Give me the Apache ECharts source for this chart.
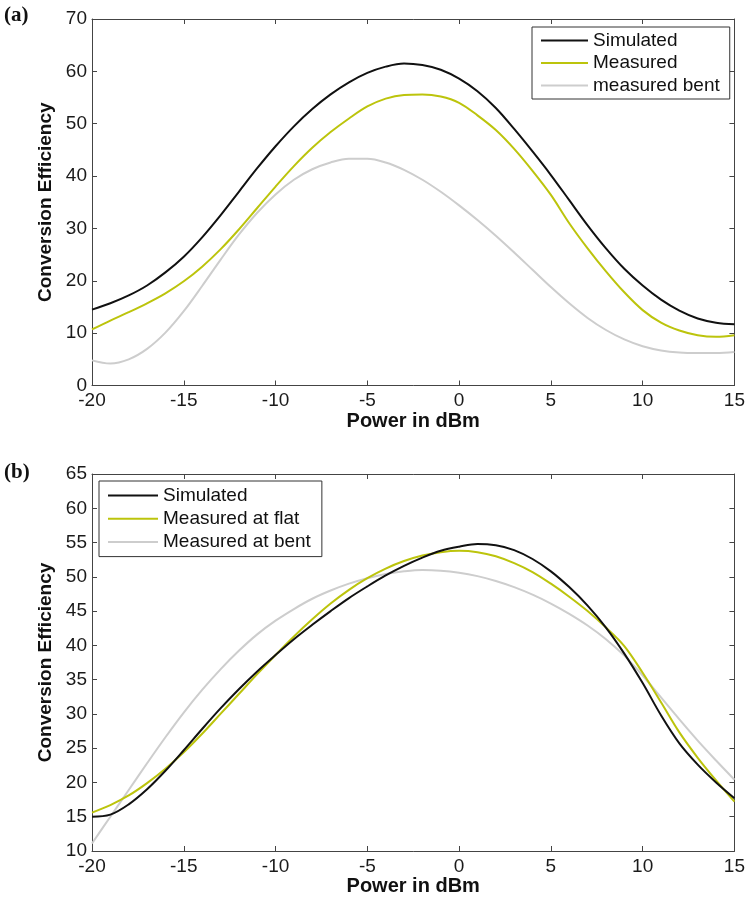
<!DOCTYPE html>
<html>
<head>
<meta charset="utf-8">
<script src="https://cdn.jsdelivr.net/npm/echarts@6/dist/echarts.min.js"></script>
<style>
html,body{margin:0;padding:0;background:#fff;}
#c{width:748px;height:901px;}
</style>
</head>
<body>
<div id="c"></div>
<script>
// ---- Data ----
const powerA = [-20,-19,-18,-17,-16,-15,-14,-13,-12,-11,-10,-9,-8,-7,-6,-5,-4,-3,-2,-1,0,1,2,3,4,5,6,7,8,9,10,11,12,13,14,15];
const simulatedA = [14.5,15.7,17.2,19.1,21.6,24.6,28.3,32.5,37.0,41.5,
                    45.7,49.5,52.8,55.6,57.9,59.7,60.9,61.5,61.2,60.3,
                    58.6,56.2,53.0,49.0,44.7,40.2,35.4,30.6,26.2,22.3,
                    19.1,16.4,14.3,12.8,12.0,11.7];
const measuredA = [10.7,12.4,14.0,15.7,17.6,19.9,22.7,26.0,29.8,33.9,
                   38.0,41.9,45.4,48.4,51.0,53.3,54.8,55.5,55.6,55.2,
                   54.0,51.6,48.8,45.2,41.0,36.4,31.0,26.2,21.8,17.8,
                   14.4,12.0,10.5,9.6,9.3,9.6];
const bentA = [4.8,4.2,5.0,7.0,10.1,14.2,19.0,24.0,28.8,33.0,
               36.5,39.3,41.3,42.6,43.3,43.3,42.6,41.2,39.3,37.0,
               34.4,31.6,28.6,25.4,22.1,18.8,15.7,12.9,10.6,8.8,
               7.5,6.7,6.3,6.2,6.2,6.4];

const powerB = [-20,-19,-18,-17,-16,-15,-14,-13,-12,-11,-10,-9,-8,-7,-6,-5,-4,-3,-2,-1,0,1,2,3,4,5,6,7,8,9,10,11,12,13,14,15];
const simulatedB = [15.0,15.3,16.8,19.0,21.7,24.7,27.8,30.8,33.6,36.2,
                    38.6,40.9,43.0,45.0,46.9,48.6,50.2,51.6,52.8,53.8,
                    54.4,54.8,54.6,53.9,52.6,50.8,48.5,45.8,42.6,38.8,
                    34.5,29.8,25.7,22.6,20.0,17.7];
const flatB = [15.6,16.7,18.1,19.9,22.0,24.4,27.1,30.0,32.9,35.8,
               38.6,41.3,43.8,46.1,48.1,49.8,51.2,52.3,53.1,53.6,
               53.8,53.6,53.0,52.0,50.7,49.0,47.1,45.0,42.6,39.9,
               36.0,31.7,27.3,23.6,20.3,17.2];
const bentB = [11.1,15.0,18.9,22.8,26.6,30.2,33.5,36.5,39.2,41.6,
               43.6,45.3,46.8,48.0,49.0,49.8,50.4,50.8,51.0,50.9,
               50.6,50.1,49.4,48.5,47.4,46.1,44.6,42.9,40.9,38.5,
               35.6,32.4,29.2,26.1,23.2,20.4];

const xTicks = {min:-20, max:15, interval:5};
const yTicksA = {min:0, max:70, interval:10};
const yTicksB = {min:10, max:65, interval:5};

const legendA = ['Simulated','Measured','measured bent'];
const legendB = ['Simulated','Measured at flat','Measured at bent'];

// ---- Styles ----
const FONT = 'Liberation Sans, Arial, sans-serif';
const AX = '#444';
const C_BLACK = '#111111', C_YEL = '#bcc40c', C_GRAY = '#cdcdcd';

function pairs(xs, ys){ return xs.map((x,i)=>[x, ys[i]]); }

function xAxisPair(gridIndex){
  const base = {
    type:'value', gridIndex, min:xTicks.min, max:xTicks.max, interval:xTicks.interval,
    axisLine:{show:true, onZero:false, lineStyle:{color:AX, width:1}},
    axisTick:{show:true, inside:true, length:5, lineStyle:{color:AX}},
    splitLine:{show:false}
  };
  return [
    Object.assign({}, base, {
      position:'bottom',
      axisLabel:{show:true, margin:6, color:'#1a1a1a', fontFamily:FONT, fontSize:19},
      name:'Power in dBm', nameLocation:'middle', nameGap:23,
      nameTextStyle:{color:'#111', fontFamily:FONT, fontSize:20, fontWeight:'bold'}
    }),
    Object.assign({}, base, {position:'top', axisLabel:{show:false}})
  ];
}
function yAxisPair(gridIndex, t){
  const base = {
    type:'value', gridIndex, min:t.min, max:t.max, interval:t.interval,
    axisLine:{show:true, onZero:false, lineStyle:{color:AX, width:1}},
    axisTick:{show:true, inside:true, length:5, lineStyle:{color:AX}},
    splitLine:{show:false}
  };
  return [
    Object.assign({}, base, {
      position:'left',
      axisLabel:{show:true, margin:5, color:'#1a1a1a', fontFamily:FONT, fontSize:19},
      name:'Conversion Efficiency', nameLocation:'middle', nameGap:36,
      nameTextStyle:{color:'#111', fontFamily:FONT, fontSize:19, fontWeight:'bold'}
    }),
    Object.assign({}, base, {position:'right', axisLabel:{show:false}})
  ];
}
function line(name, xs, ys, color, xi, yi, z){
  return {
    type:'line', name, data:pairs(xs, ys), xAxisIndex:xi, yAxisIndex:yi,
    smooth:0.35, symbol:'none', showSymbol:false, z:z,
    lineStyle:{color, width:2}, itemStyle:{color}, animation:false
  };
}

const chart = echarts.init(document.getElementById('c'), null, {renderer:'canvas'});
chart.setOption({
  backgroundColor:'#fff',
  animation:false,
  grid:[
    {left:92, top:19, width:645, height:366.5},
    {left:92, top:474, width:645, height:377}
  ],
  xAxis:[...xAxisPair(0), ...xAxisPair(1)],
  yAxis:[...yAxisPair(0, yTicksA), ...yAxisPair(1, yTicksB)],
  legend:[
    {data:legendA, left:532, top:27, orient:'vertical', icon:'rect', itemWidth:47, itemHeight:2, itemGap:3.5,
     padding:[4,10,4,9], borderColor:'#333', borderWidth:1, backgroundColor:'#fff',
     selectedMode:false, textStyle:{fontFamily:FONT, fontSize:19, lineHeight:19, color:'#111'}},
    {data:legendB, left:99, top:481, orient:'vertical', icon:'rect', itemWidth:50, itemHeight:2, itemGap:4.3,
     padding:[5,11,5,9], borderColor:'#333', borderWidth:1, backgroundColor:'#fff',
     selectedMode:false, textStyle:{fontFamily:FONT, fontSize:19, lineHeight:19, color:'#111'}}
  ],
  graphic:[
    {type:'text', left:4, top:5, style:{text:'(a)', font:'bold 21px "Liberation Serif", "Times New Roman", serif', fill:'#111'}},
    {type:'text', left:4, top:462, style:{text:'(b)', font:'bold 21px "Liberation Serif", "Times New Roman", serif', fill:'#111'}}
  ],
  series:[
    line(legendA[2], powerA, bentA, C_GRAY, 0, 0, 2),
    line(legendA[1], powerA, measuredA, C_YEL, 0, 0, 3),
    line(legendA[0], powerA, simulatedA, C_BLACK, 0, 0, 4),
    line(legendB[2], powerB, bentB, C_GRAY, 2, 2, 2),
    line(legendB[1], powerB, flatB, C_YEL, 2, 2, 3),
    line(legendB[0], powerB, simulatedB, C_BLACK, 2, 2, 4)
  ]
});
</script>
</body>
</html>
